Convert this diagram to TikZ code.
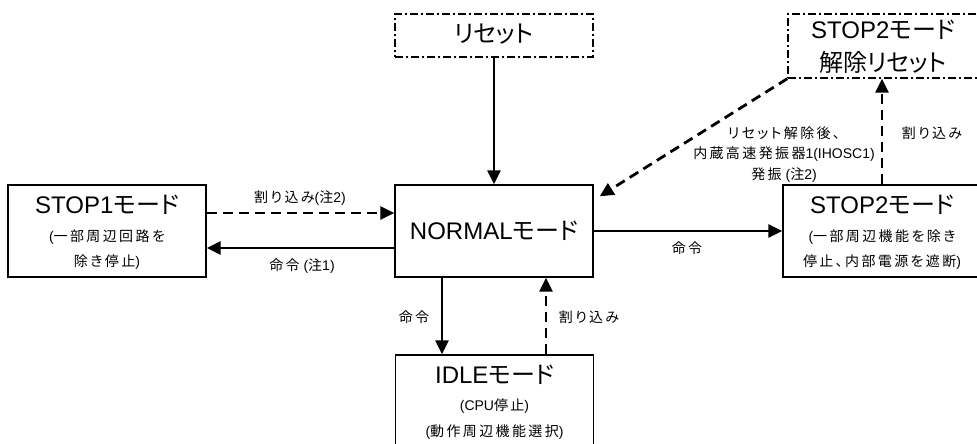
\documentclass[tikz,border=0pt]{standalone}
\usepackage{fontspec}
\setmainfont{Liberation Sans}
\newfontfamily\jpt[RawFeature=+palt]{Noto Sans CJK JP}
\newfontfamily\jpl[RawFeature=+palt,LetterSpace=17]{Noto Sans CJK JP}
\usetikzlibrary{arrows.meta}
\tikzset{
  box/.style={draw, line width=1.3pt, minimum width=198pt, minimum height=92pt, inner sep=0pt},
  rbox/.style={draw, line width=1.3pt, minimum width=198pt, inner sep=0pt, dash pattern=on 8pt off 3pt on 2pt off 3pt},
  ttl/.style={anchor=base, inner sep=0pt, font=\fontsize{24}{28}\selectfont},
  sub/.style={anchor=base, inner sep=0pt, font=\fontsize{14}{16}\selectfont},
  lb/.style={anchor=base, inner sep=0pt, font=\fontsize{14}{16}\selectfont},
  arr/.style={-{Triangle[length=14pt,width=13pt]}, line width=2.8pt},
  darr/.style={arr, dash pattern=on 10pt off 6pt},
}
\begin{document}
\begin{tikzpicture}[x=1pt, y=-1pt]
\useasboundingbox (0,0) rectangle (977,444);
\clip (0,0) rectangle (977,444);
% boxes
\node[box] (stop1) at (107,231) {};
\node[box] (normal) at (494,231) {};
\node[box] (stop2) at (882,231) {};
\node[box] (idle) at (494.5,401) {};
\node[rbox, minimum height=43pt] (reset) at (494,35.5) {};
\node[rbox, minimum width=190pt, minimum height=64pt] (reset2) at (883,46) {};
% box texts
\node[ttl] (t1) at (107,213.5) {STOP1{\jpt モード}};
\node[sub] (t1a) at (107,241.3) {({\jpl 一部周辺回路を}};
\node[sub] (t1b) at (107,266.8) {{\jpl 除き停止})};
\node[ttl] (tn) at (494,239.5) {NORMAL{\jpt モード}};
\node[ttl] (t2) at (882,213.5) {STOP2{\jpt モード}};
\node[sub] (t2a) at (882,241.3) {({\jpl 一部周辺機能を除き}};
\node[sub] (t2b) at (882,266.8) {{\jpl 停止、内部電源を遮断})};
\node[ttl] (ti) at (494.5,383.5) {IDLE{\jpt モード}};
\node[sub] (tia) at (494.5,410.3) {(CPU{\jpl 停止})};
\node[sub] (tib) at (494.5,436.8) {({\jpl 動作周辺機能選択})};
\node[ttl] (tr) at (494,43) {{\jpt リセット}};
\node[ttl] (tr2a) at (883,39) {STOP2{\jpt モード}};
\node[ttl] (tr2b) at (883,71.5) {{\jpt 解除リセット}};
% connectors
\draw[arr] (reset.south) -- (normal.north);
\draw[darr] ([yshift=18pt]stop1.east) -- ([yshift=18pt]normal.west);
\draw[arr] ([yshift=-17pt]normal.west) -- ([yshift=-17pt]stop1.east);
\draw[arr] (normal.east) -- (stop2.west);
\draw[arr] ([xshift=-52pt]normal.south) -- ([xshift=-52.5pt]idle.north);
\draw[darr] ([xshift=51.5pt]idle.north) -- ([xshift=52pt]normal.south);
\draw[darr] (stop2.north) -- (stop2.north |- reset2.south);
\draw[darr] (reset2.south west) -- ([xshift=6pt,yshift=-12pt]normal.north east);
% edge labels
\node[lb] (e1) at (300,202) {{\jpl 割り込み}({\jpl 注}2)};
\node[lb] (e2) at (302,270) {{\jpl 命令} ({\jpl 注}1)};
\node[lb] (e3) at (687,253) {{\jpl 命令}};
\node[lb] (e4) at (414,322) {{\jpl 命令}};
\node[lb] (e5) at (589,322) {{\jpl 割り込み}};
\node[lb] (e6) at (932,138) {{\jpl 割り込み}};
\node[lb] (e7a) at (784,138) {{\jpl リセット解除後、}};
\node[lb] (e7b) at (784,158.5) {{\jpl 内蔵高速発振器}1(IHOSC1)};
\node[lb] (e7c) at (784,179) {{\jpl 発振} ({\jpl 注}2)};
\end{tikzpicture}
\end{document}
